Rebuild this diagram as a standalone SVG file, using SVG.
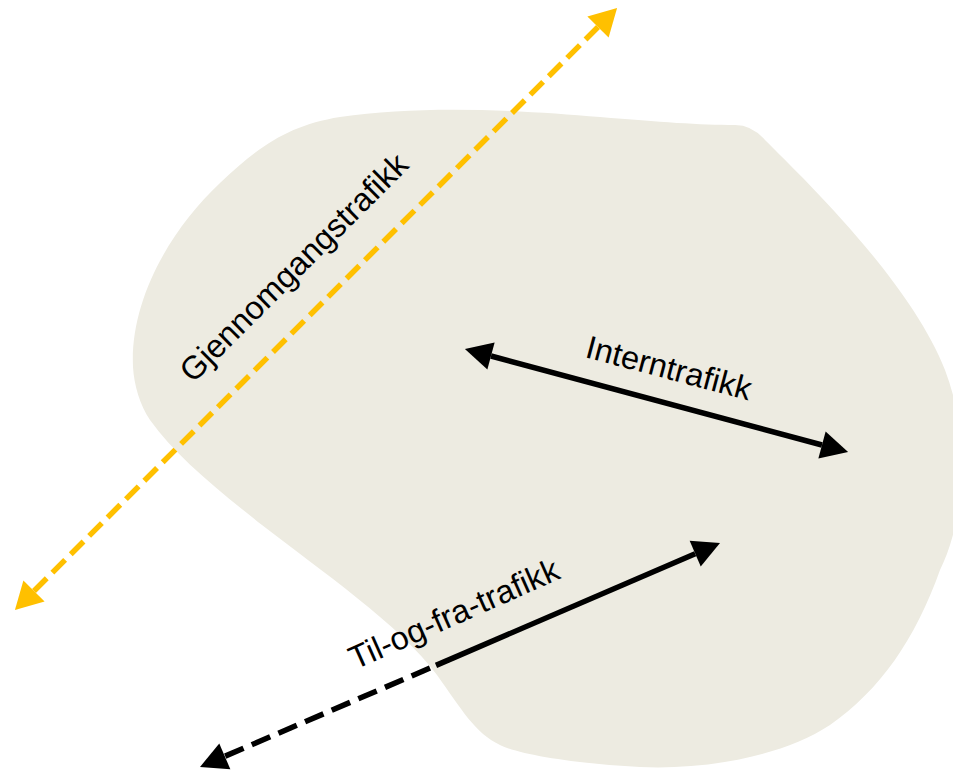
<svg xmlns="http://www.w3.org/2000/svg" width="953" height="770" viewBox="0 0 953 770">
<style>
.lbl{font-family:"Liberation Sans",Arial,sans-serif;font-size:32.5px;fill:#000}
.ylw{fill:none;stroke:#FFC000;stroke-width:5.5;stroke-dasharray:18 8}
.blk{fill:none;stroke:#000;stroke-width:5.5}
.blkd{fill:none;stroke:#000;stroke-width:5.5;stroke-dasharray:20 9}
</style>
<defs>
<marker id="hy" markerUnits="userSpaceOnUse" markerWidth="30" markerHeight="32" viewBox="0 -16 28 32" refX="0" refY="0" orient="auto-start-reverse"><path d="M0,-15 L27,0 L0,15 Z" fill="#FFC000"/></marker>
<marker id="hb" markerUnits="userSpaceOnUse" markerWidth="30" markerHeight="32" viewBox="0 -16 28 32" refX="0" refY="0" orient="auto-start-reverse"><path d="M0,-14 L27,0 L0,14 Z" fill="#000"/></marker>
</defs>
<g id="area">
<path d="M133,367 C130,300 170,230 220,183 C260,145 290,125 340,117 C420,105 520,110 600,117 C660,122 700,125 735,125 Q752,125 765,140 C800,175 910,280 945,370 C975,450 960,530 940,570 C915,640 880,690 830,725 C780,758 700,770 640,767 C580,764 520,755 500,745 C475,733 462,710 437,675 C400,625 320,570 262,525 C215,488 175,455 150,420 C140,405 134,385 133,367 Z" fill="#EDEBE1"/>
</g>
<g id="connectors">
<path id="gjennomgang" class="ylw" d="M34,591 L598,27" marker-start="url(#hy)" marker-end="url(#hy)"/>
<path id="intern" class="blk" d="M491,356 L822,445" marker-start="url(#hb)" marker-end="url(#hb)"/>
<path id="tilfra-dash" class="blkd" d="M430,668 L224.8,756.3" marker-end="url(#hb)"/>
<path id="tilfra-solid" class="blk" d="M436,665.4 L695.2,553.7" marker-end="url(#hb)"/>
</g>
<g id="labels">
<text class="lbl" transform="translate(193,384) rotate(-45)">Gjennomgangstrafikk</text>
<text class="lbl" transform="translate(584,357) rotate(14.8)">Interntrafikk</text>
<text class="lbl" transform="translate(355,670) rotate(-24)">Til-og-fra-trafikk</text>
</g>
</svg>
